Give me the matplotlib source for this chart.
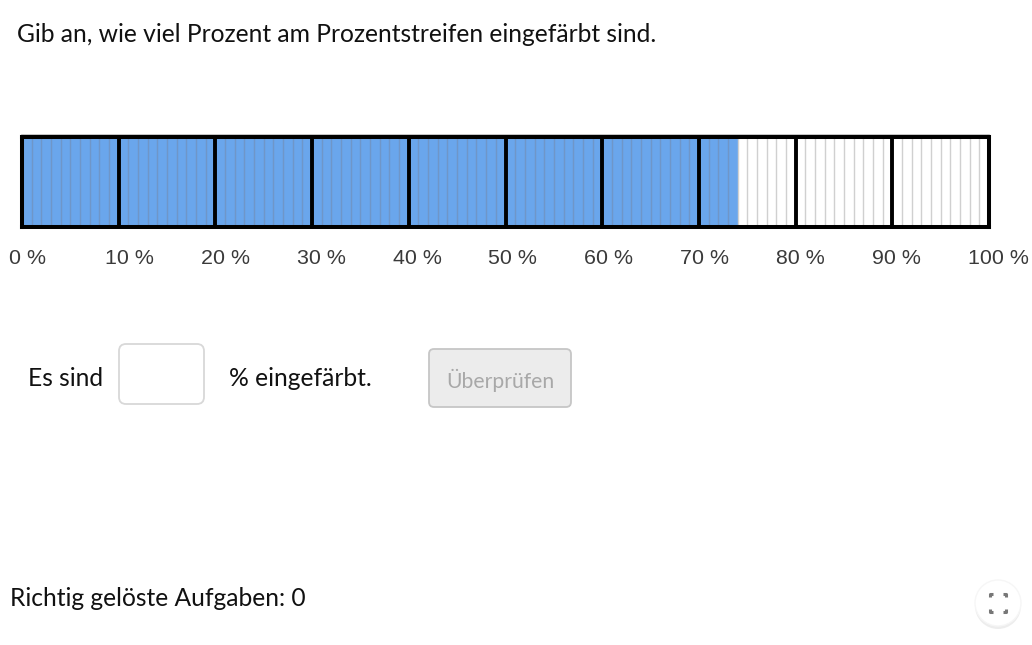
import matplotlib
matplotlib.use("Agg")
import matplotlib.pyplot as plt
from matplotlib.patches import FancyBboxPatch, Circle

# values
filled_percent = 74
cell_percent = list(range(100))
tick_values = [0, 10, 20, 30, 40, 50, 60, 70, 80, 90, 100]
tick_labels = ["0 %", "10 %", "20 %", "30 %", "40 %", "50 %", "60 %", "70 %", "80 %", "90 %", "100 %"]

W, H = 1032, 645
text_font = "Lato"
label_font = "Liberation Sans"
text_size = 17.7

fig = plt.figure(figsize=(W / 100, H / 100), dpi=100, facecolor="white")


def px_axes(left, top, width, height):
    return fig.add_axes([left / W, 1 - (top + height) / H, width / W, height / H])


# the percent strip
ax = px_axes(22, 137, 967, 90)
ax.set_xlim(0, 100)
ax.set_ylim(0, 1)
colors = ["#6aa6ec" if c < filled_percent else "white" for c in cell_percent]
ax.bar(cell_percent, 1, width=1, align="edge", color=colors, linewidth=0)
for c in cell_percent[1:]:
    line_color = "#6f96c8" if c < filled_percent else "#d0d0d0"
    ax.axvline(c, color=line_color, lw=1.0, zorder=2)
for t in tick_values[1:-1]:
    ax.axvline(t, color="black", lw=2.8, zorder=3)
ax.set_xticks([])
ax.set_yticks([])
for s in ax.spines.values():
    s.set_linewidth(2.9)
    s.set_color("black")
    s.set_zorder(4)

# labels sit on a slightly tighter spacing than the strip
lab_ax = px_axes(9, 240, 959, 30)
lab_ax.set_xlim(0, 100)
lab_ax.set_ylim(0, 1)
lab_ax.axis("off")
for t, lab in zip(tick_values, tick_labels):
    lab_ax.text(t, 0.40, lab, ha="left", va="center", fontsize=15.4,
                family=label_font, color="#3a3a3a")

# everything else is page furniture, drawn in pixel coordinates
ui = fig.add_axes([0, 0, 1, 1], zorder=-1)
ui.set_xlim(0, W)
ui.set_ylim(H, 0)
ui.axis("off")

ui.plot([22, 989], [135, 135], color="#bdbdbd", lw=1.2)

ui.text(17, 34, "Gib an, wie viel Prozent am Prozentstreifen eingefärbt sind.",
        fontsize=text_size, family=text_font, va="center", color="#111111")
ui.text(28, 379, "Es sind", fontsize=text_size, family=text_font, va="center", color="#111111")
ui.text(229, 379, "% eingefärbt.", fontsize=text_size, family=text_font, va="center", color="#111111")
ui.text(10, 599, "Richtig gelöste Aufgaben: 0", fontsize=text_size, family=text_font, va="center", color="#111111")

ui.add_patch(FancyBboxPatch((119, 344), 85, 60, boxstyle="round,pad=0,rounding_size=7",
                            fc="white", ec="#d8d8d8", lw=1.3))
ui.add_patch(FancyBboxPatch((429, 349), 142, 58, boxstyle="round,pad=0,rounding_size=5",
                            fc="#ececec", ec="#c6c6c6", lw=1.3))
ui.text(500, 380, "Überprüfen", fontsize=15.2, family=text_font, ha="center", va="center", color="#a8a8a8")

# fullscreen button
ui.add_patch(Circle((998, 606), 23, fc="#e2e2e2", ec="none", alpha=0.6))
ui.add_patch(Circle((998, 603), 23, fc="white", ec="#f6f6f6", lw=1))
for x, dx in [(990, 1), (1006, -1)]:
    for y, dy in [(594, 1), (612, -1)]:
        ui.plot([x + 3 * dx, x, x], [y, y, y + 3 * dy], color="#777777", lw=2.2, solid_capstyle="butt")

fig.savefig("out.png", dpi=100)
